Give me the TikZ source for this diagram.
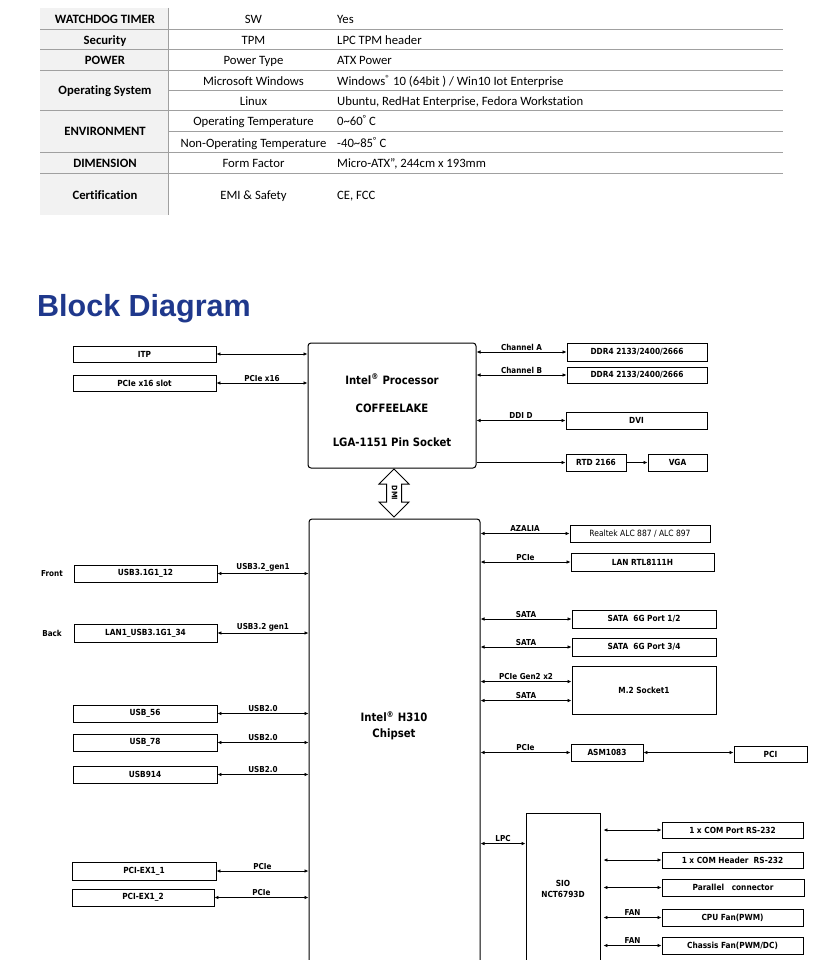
\documentclass[tikz,border=0pt]{standalone}
\usepackage{fontspec}
\setmainfont[Ligatures={NoCommon}]{Carlito}
\newfontfamily\dfont[FakeStretch=0.88]{DejaVu Sans}
\newfontfamily\ttlfont{Liberation Sans}
\usetikzlibrary{arrows.meta,calc}
\definecolor{titleblue}{RGB}{31,56,140}
\definecolor{tline}{RGB}{160,160,160}
\definecolor{tgray}{RGB}{242,242,242}
\newcommand\bx[7][]{%
 \pgfmathsetmacro\bxcx{(#3+#5)/2}%
 \pgfmathsetmacro\bxcy{(#4+#6)/2}%
 \pgfmathsetmacro\bxw{#5-#3}%
 \pgfmathsetmacro\bxh{#6-#4}%
 \node[box,minimum width=\bxw pt,minimum height=\bxh pt,#1] (#2) at (\bxcx,\bxcy) {#7};}
\begin{document}
\begin{tikzpicture}[x=1pt,y=-1pt,
  box/.style={draw,line width=0.9pt,inner sep=0pt,font=\dfont\bfseries\fontsize{8.4}{10}\selectfont},
  plain/.style={font=\dfont\fontsize{8.6}{10}\selectfont},
  big/.style={inner sep=0pt,font=\dfont\bfseries\fontsize{11.5}{16}\selectfont,align=center},
  lbl/.style={inner sep=1pt,above=0.3pt,font=\dfont\bfseries\fontsize{8.2}{10}\selectfont},
  side/.style={inner sep=0pt,font=\dfont\bfseries\fontsize{8.2}{10}\selectfont},
  dbl/.style={{Latex[length=4pt,width=3.6pt]}-{Latex[length=4pt,width=3.6pt]},line width=0.8pt},
  sgl/.style={-{Latex[length=4pt,width=3.6pt]},line width=0.8pt},
  tcell/.style={inner sep=0pt,font=\fontsize{12.7}{14}\selectfont,text height=11.6pt,text depth=1.8pt},
  thead/.style={tcell,font=\bfseries\fontsize{12.7}{14}\selectfont},
  tval/.style={tcell,anchor=west},
  trule/.style={draw=tline,line width=0.9pt}
]
\useasboundingbox (0,0) rectangle (832,960);
\fill[white] (0,0) rectangle (832,960);
\clip (0,0) rectangle (832,960);

% ---------------- table ----------------
\fill[tgray] (40,8) rectangle (168,215);
\draw[trule] (168,8) -- (168,215);
\foreach \yy in {29,49.5,70,110,152.5,173} \draw[trule] (40,\yy) -- (783,\yy);
\foreach \yy in {90.5,131} \draw[trule] (168,\yy) -- (783,\yy);

\node[thead] (h1) at (105,18.5) {WATCHDOG TIMER};
\node[thead] (h2) at (105,39.3) {Security};
\node[thead] (h3) at (105,60) {POWER};
\node[thead] (h4) at (105,90) {Operating System};
\node[thead] (h5) at (105,131) {ENVIRONMENT};
\node[thead] (h6) at (105,163) {DIMENSION};
\node[thead] (h7) at (105,194.5) {Certification};

\node[tcell] (s1) at (253.5,18.5) {SW};
\node[tcell] (s2) at (253.5,39.3) {TPM};
\node[tcell] (s3) at (253.5,60) {Power Type};
\node[tcell] (s4) at (253.5,80.5) {Microsoft Windows};
\node[tcell] (s5) at (253.5,100.5) {Linux};
\node[tcell] (s6) at (253.5,121) {Operating Temperature};
\node[tcell] (s7) at (253.5,142.5) {Non-Operating Temperature};
\node[tcell] (s8) at (253.5,163) {Form Factor};
\node[tcell] (s9) at (253.5,194.5) {EMI \& Safety};

\node[tval] (v1) at (337,18.5) {Yes};
\node[tval] (v2) at (337,39.3) {LPC TPM header};
\node[tval] (v3) at (337,60) {ATX Power};
\node[tval] (v4) at (337,80.5) {Windows\textsuperscript{®} 10 (64bit ) / Win10 Iot Enterprise};
\node[tval] (v5) at (337,100.5) {Ubuntu, RedHat Enterprise, Fedora Workstation};
\node[tval] (v6) at (337,121) {0\textasciitilde 60\textsuperscript{°} C};
\node[tval] (v7) at (337,142.5) {-40\textasciitilde 85\textsuperscript{°} C};
\node[tval] (v8) at (337,163) {Micro-ATX”, 244cm x 193mm};
\node[tval] (v9) at (337,194.5) {CE, FCC};

% ---------------- title ----------------
\node[inner sep=0pt,anchor=base west,text=titleblue,font=\ttlfont\bfseries\fontsize{30.5}{33}\selectfont] (title) at (37,316) {Block Diagram};

% ---------------- CPU ----------------
\bx[rounded corners=3pt,line width=1pt]{cpu}{308}{343}{476}{468}{}
\node[big] (cpu1) at (392,379) {Intel\textsuperscript{®} Processor};
\node[big] (cpu2) at (392,408) {COFFEELAKE};
\node[big] (cpu3) at (392,442) {LGA-1151 Pin Socket};

\bx{itp}{73}{346}{216}{362}{ITP}
\bx{pcie16}{73}{375}{216}{391}{PCIe x16 slot}
\draw[dbl] (itp.east) -- (itp.east -| cpu.west);
\draw[dbl] (pcie16.east) -- node[lbl]{PCIe x16} (pcie16.east -| cpu.west);

\bx{ddr1}{567}{343}{707}{361}{DDR4 2133/2400/2666}
\bx{ddr2}{567}{367}{707}{383}{DDR4 2133/2400/2666}
\bx{dvi}{566}{412}{707}{429}{DVI}
\bx{rtd}{566}{454}{626}{471}{RTD 2166}
\bx{vga}{648}{454}{707}{471}{VGA}
\draw[dbl] (ddr1.west -| cpu.east) -- node[lbl]{Channel A} (ddr1.west);
\draw[dbl] (ddr2.west -| cpu.east) -- node[lbl]{Channel B} (ddr2.west);
\draw[dbl] (dvi.west -| cpu.east) -- node[lbl]{DDI D} (dvi.west);
\draw[sgl] (rtd.west -| cpu.east) -- (rtd.west);
\draw[sgl] (rtd.east) -- (vga.west);

% ---------------- DMI ----------------
\draw[line width=1pt,line join=miter] (394,469) -- (409,484) -- (401.5,484) -- (401.5,502) -- (409,502) -- (394,517) -- (379,502) -- (386.5,502) -- (386.5,484) -- (379,484) -- cycle;
\node[side,rotate=-90,font=\dfont\bfseries\fontsize{7.5}{9}\selectfont] (dmi) at (394.5,493) {DMI};

% ---------------- PCH ----------------
\bx[rounded corners=3pt,line width=1pt]{pch}{309}{519}{480}{1000}{}
\node[big] (pchtxt) at (394,726) {Intel\textsuperscript{®} H310\\Chipset};

\node[side] (front) at (52,574) {Front};
\node[side] (back) at (52,633) {Back};
\bx{usb1}{74}{565}{217}{582}{USB3.1G1\_12}
\bx{usb2}{74}{624}{217}{642}{LAN1\_USB3.1G1\_34}
\bx{usb56}{73}{705}{217}{722}{USB\_56}
\bx{usb78}{73}{734}{217}{751}{USB\_78}
\bx{usb914}{73}{766}{217}{783}{USB914}
\bx{px1}{72}{862}{216}{880}{PCI-EX1\_1}
\bx{px2}{72}{889}{214}{906}{PCI-EX1\_2}
\draw[dbl] (usb1.east) -- node[lbl]{USB3.2\_gen1} (usb1.east -| pch.west);
\draw[dbl] (usb2.east) -- node[lbl]{USB3.2 gen1} (usb2.east -| pch.west);
\draw[dbl] (usb56.east) -- node[lbl]{USB2.0} (usb56.east -| pch.west);
\draw[dbl] (usb78.east) -- node[lbl]{USB2.0} (usb78.east -| pch.west);
\draw[dbl] (usb914.east) -- node[lbl]{USB2.0} (usb914.east -| pch.west);
\draw[dbl] (px1.east) -- node[lbl]{PCIe} (px1.east -| pch.west);
\draw[dbl] (px2.east) -- node[lbl]{PCIe} (px2.east -| pch.west);

\bx[plain]{alc}{570}{525}{710}{542}{Realtek ALC 887 / ALC 897}
\bx{lan}{571}{553}{714}{571}{LAN RTL8111H}
\bx{sata1}{572}{610}{716}{628}{SATA\ \ 6G Port 1/2}
\bx{sata2}{572}{638}{716}{656}{SATA\ \ 6G Port 3/4}
\bx{m2}{572}{666}{716}{714}{M.2 Socket1}
\bx{asm}{571}{744}{643}{761}{ASM1083}
\bx{pci}{734}{746}{807}{762}{PCI}
\draw[dbl] (alc.west -| pch.east) -- node[lbl]{AZALIA} (alc.west);
\draw[dbl] (lan.west -| pch.east) -- node[lbl]{PCIe} (lan.west);
\draw[dbl] (sata1.west -| pch.east) -- node[lbl]{SATA} (sata1.west);
\draw[dbl] (sata2.west -| pch.east) -- node[lbl]{SATA} (sata2.west);
\coordinate (m2a) at ($(m2.north west)+(0,16)$);
\coordinate (m2b) at ($(m2.north west)+(0,35)$);
\draw[dbl] (pch.east |- m2a) -- node[lbl]{PCIe Gen2 x2} (m2a);
\draw[dbl] (pch.east |- m2b) -- node[lbl]{SATA} (m2b);
\draw[dbl] (asm.west -| pch.east) -- node[lbl]{PCIe} (asm.west);
\draw[dbl] (asm.east) -- (asm.east -| pci.west);

% ---------------- SIO ----------------
\bx[align=center,font=\dfont\bfseries\fontsize{8.4}{11}\selectfont]{sio}{526}{813}{600}{965}{SIO\\NCT6793D}
\coordinate (lpc) at ($(sio.north west)+(0,31)$);
\draw[dbl] (pch.east |- lpc) -- node[lbl]{LPC} (lpc);
\bx{com1}{662}{822}{803}{838}{1 x COM Port RS-232}
\bx{com2}{662}{852}{803}{868}{1 x COM Header\ \ RS-232}
\bx{par}{662}{879}{804}{896}{Parallel\ \ \ connector}
\bx{cfan}{662}{909}{803}{926}{CPU Fan(PWM)}
\bx{chfan}{662}{937}{803}{954}{Chassis Fan(PWM/DC)}
\draw[dbl] ($(com1.west -| sio.east)+(3,0)$) -- (com1.west);
\draw[dbl] ($(com2.west -| sio.east)+(3,0)$) -- (com2.west);
\draw[dbl] ($(par.west -| sio.east)+(3,0)$) -- (par.west);
\draw[dbl] ($(cfan.west -| sio.east)+(3,0)$) -- node[lbl]{FAN} (cfan.west);
\draw[dbl] ($(chfan.west -| sio.east)+(3,0)$) -- node[lbl]{FAN} (chfan.west);
\end{tikzpicture}
\end{document}
